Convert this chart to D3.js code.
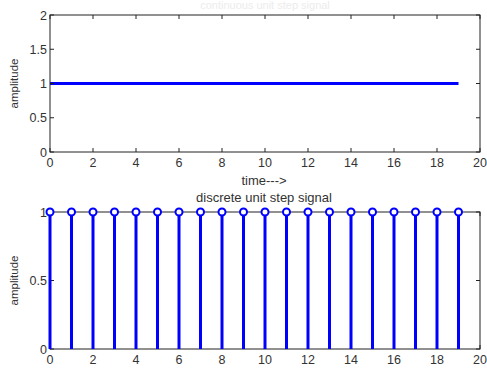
<!DOCTYPE html>
<html>
<head>
<meta charset="utf-8">
<script src="https://cdn.jsdelivr.net/npm/d3@7"></script>
<style>
  body { margin: 0; background: #fff; }
  svg { display: block; font-family: "Liberation Sans", Arial, sans-serif; }
</style>
</head>
<body>
<div id="chart"></div>
<script>
// sample index n and unit step values u(n)
const time = [0, 1, 2, 3, 4, 5, 6, 7, 8, 9, 10, 11, 12, 13, 14, 15, 16, 17, 18, 19];
const amplitude = [1, 1, 1, 1, 1, 1, 1, 1, 1, 1, 1, 1, 1, 1, 1, 1, 1, 1, 1, 1];
const xTicks = [0, 2, 4, 6, 8, 10, 12, 14, 16, 18, 20];
const yTicksTop = [0, 0.5, 1, 1.5, 2];
const yTicksBottom = [0, 0.5, 1];

const width = 487, height = 368;
const blue = "#0000ff";
const points = time.map((t, i) => ({ t, v: amplitude[i] }));

const svg = d3.select("#chart").append("svg")
    .attr("width", width)
    .attr("height", height)
    .attr("viewBox", [0, 0, width, height]);

// draws a matlab style box with ticks pointing inward on all four sides
function drawBox(g, x, y, yTicks) {
    const [x0, x1] = x.range();
    const [y0, y1] = y.range();
    const tick = 4;

    g.append("rect")
        .attr("x", x0).attr("y", y1)
        .attr("width", x1 - x0).attr("height", y0 - y1)
        .attr("fill", "none").attr("stroke", "#222").attr("stroke-width", 1);

    const tk = g.append("g").attr("stroke", "#222").attr("stroke-width", 1);
    xTicks.forEach(d => {
        tk.append("line").attr("x1", x(d)).attr("x2", x(d)).attr("y1", y0).attr("y2", y0 - tick);
        tk.append("line").attr("x1", x(d)).attr("x2", x(d)).attr("y1", y1).attr("y2", y1 + tick);
    });
    yTicks.forEach(d => {
        tk.append("line").attr("x1", x0).attr("x2", x0 + tick).attr("y1", y(d)).attr("y2", y(d));
        tk.append("line").attr("x1", x1).attr("x2", x1 - tick).attr("y1", y(d)).attr("y2", y(d));
    });

    g.append("g").selectAll("text").data(xTicks).join("text")
        .attr("x", d => x(d)).attr("y", y0 + 15)
        .attr("text-anchor", "middle").attr("font-size", 12.5).attr("fill", "#333")
        .text(d => d);

    g.append("g").selectAll("text").data(yTicks).join("text")
        .attr("x", x0 - 3).attr("y", d => y(d) + 4.5)
        .attr("text-anchor", "end").attr("font-size", 12.5).attr("fill", "#333")
        .text(d => d);

    g.append("text")
        .attr("transform", `translate(18,${(y0 + y1) / 2}) rotate(-90)`)
        .attr("text-anchor", "middle").attr("font-size", 11.5).attr("fill", "#333")
        .text("amplitude");
}

// top panel: continuous signal
const xTop = d3.scaleLinear().domain([0, 20]).range([50, 480]);
const yTop = d3.scaleLinear().domain([0, 2]).range([152, 15]);
const topPanel = svg.append("g");

topPanel.append("text")
    .attr("x", 265).attr("y", 9)
    .attr("text-anchor", "middle").attr("font-size", 11).attr("fill", "#ececec")
    .text("continuous unit step signal");

topPanel.append("path")
    .datum(points)
    .attr("fill", "none").attr("stroke", blue).attr("stroke-width", 3)
    .attr("d", d3.line().x(d => xTop(d.t)).y(d => yTop(d.v)));

drawBox(topPanel, xTop, yTop, yTicksTop);

topPanel.append("text")
    .attr("x", 264).attr("y", 185)
    .attr("text-anchor", "middle").attr("font-size", 13).attr("fill", "#333")
    .text("time--->");

// bottom panel: discrete signal
const xBot = d3.scaleLinear().domain([0, 20]).range([50, 480]);
const yBot = d3.scaleLinear().domain([0, 1]).range([349, 212]);
const botPanel = svg.append("g");

botPanel.append("text")
    .attr("x", 264).attr("y", 202)
    .attr("text-anchor", "middle").attr("font-size", 13).attr("fill", "#333")
    .text("discrete unit step signal");

drawBox(botPanel, xBot, yBot, yTicksBottom);

botPanel.append("g").selectAll("line").data(points).join("line")
    .attr("x1", d => xBot(d.t)).attr("x2", d => xBot(d.t))
    .attr("y1", yBot(0)).attr("y2", d => yBot(d.v))
    .attr("stroke", blue).attr("stroke-width", 3);

botPanel.append("g").selectAll("circle").data(points).join("circle")
    .attr("cx", d => xBot(d.t)).attr("cy", d => yBot(d.v))
    .attr("r", 3.5)
    .attr("fill", "#fff").attr("stroke", blue).attr("stroke-width", 2);
</script>
</body>
</html>
